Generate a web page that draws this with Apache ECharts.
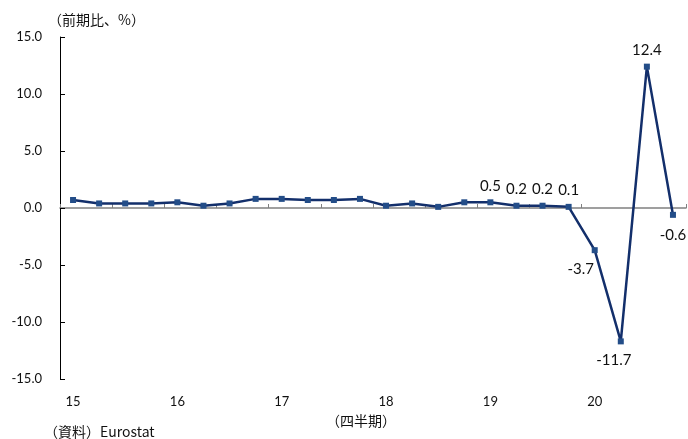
<!DOCTYPE html>
<html><head><meta charset="utf-8">
<script src="https://cdn.jsdelivr.net/npm/echarts@6/dist/echarts.min.js"></script>
<style>html,body{margin:0;padding:0;background:#fff}#c{width:688px;height:439px}</style>
</head><body><div id="c"></div>
<script>
const categories = ['15Q1','15Q2','15Q3','15Q4','16Q1','16Q2','16Q3','16Q4','17Q1','17Q2','17Q3','17Q4','18Q1','18Q2','18Q3','18Q4','19Q1','19Q2','19Q3','19Q4','20Q1','20Q2','20Q3','20Q4'];
const yearLabels = ['15','16','17','18','19','20'];
const values = [0.7,0.4,0.4,0.4,0.5,0.2,0.4,0.8,0.8,0.7,0.7,0.8,0.2,0.4,0.1,0.5,0.5,0.2,0.2,0.1,-3.7,-11.7,12.4,-0.6];
const labelledFrom = 16;
const yTicks = [-15,-10,-5,0,5,10,15];

const font = 'Lato, "Noto Sans CJK JP", sans-serif';
const labelOffsets = {20:[-14,2],21:[-7,2],23:[0,4]};
const seriesData = values.map((v,i)=>{
  if(i<labelledFrom) return v;
  return {value:v,label:{show:true,position:v>=0?'top':'bottom',distance:6,offset:labelOffsets[i]||[0,0],
    formatter:p=>p.value.toFixed(1),fontSize:15,color:'#111',fontFamily:font}};
});

const chart = echarts.init(document.getElementById('c'));
chart.setOption({
  animation:false,
  grid:{left:60,right:2,top:37,bottom:60,containLabel:false},
  xAxis:[
    {type:'category',data:categories,boundaryGap:true,
     axisLine:{onZero:true,lineStyle:{color:'#808080',width:1.5}},
     axisTick:{show:true,inside:true,length:4,lineStyle:{color:'#808080'}},
     axisLabel:{show:false},splitLine:{show:false}},
    {type:'category',data:categories,boundaryGap:true,position:'bottom',
     axisLine:{show:false},axisTick:{show:false},
     axisLabel:{show:true,interval:0,margin:16,fontSize:13,color:'#111',fontFamily:font,
       formatter:(v,i)=>i%4===0?yearLabels[i/4]:''}}
  ],
  yAxis:{type:'value',min:yTicks[0],max:yTicks[yTicks.length-1],interval:5,
    axisLine:{show:true,lineStyle:{color:'#000',width:1}},
    axisTick:{show:true,inside:true,length:5,lineStyle:{color:'#000'}},
    axisLabel:{margin:18,fontSize:13,color:'#111',fontFamily:font,formatter:v=>v.toFixed(1)},
    splitLine:{show:false}},
  series:[{type:'line',data:seriesData,xAxisIndex:0,symbol:'rect',symbolSize:6,
    lineStyle:{color:'#132f6b',width:2.5},itemStyle:{color:'#234d88'},z:3}],
  graphic:[
    {type:'text',left:48,top:13,style:{text:'（前期比、%）',font:'14px "Noto Sans CJK JP"',fill:'#111'}},
    {type:'text',left:326,top:414,style:{text:'（四半期）',font:'14px "Noto Sans CJK JP"',fill:'#111'}},
    {type:'text',left:44,top:425,style:{text:'（資料）Eurostat',font:'14px "Noto Sans CJK JP"',fill:'#111'}}
  ]
});
</script></body></html>
